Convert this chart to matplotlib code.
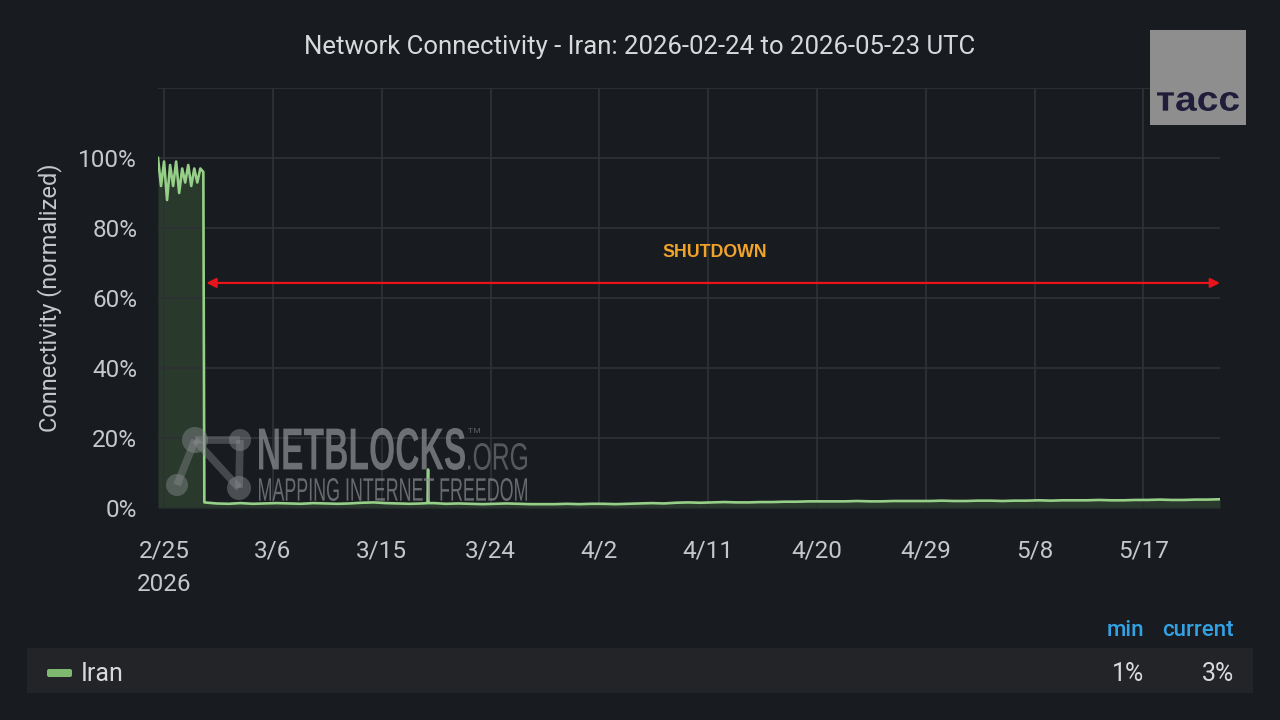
import numpy as np
import pandas as pd
import matplotlib
matplotlib.use("Agg")
import matplotlib.pyplot as plt
from matplotlib.patches import Rectangle, Circle, FancyBboxPatch, PathPatch
from matplotlib.textpath import TextPath
from matplotlib.font_manager import FontProperties
from matplotlib.transforms import Affine2D

plt.rcParams['font.family'] = ['Roboto', 'DejaVu Sans']

# --- data (connectivity, % of normal) ---
pre_start = '2026-02-24 12:00'
pre_vals = [100, 92, 99, 88, 98, 92, 99, 90, 97, 93, 98, 92, 97, 93, 97, 96]
post_start = '2026-02-28 08:00'
post_vals = [1.6, 1.3, 1.2, 1.4, 1.2, 1.3, 1.4,
             1.3, 1.2, 1.4, 1.3, 1.2, 1.3, 1.5,
             1.6, 1.4, 1.3, 1.2, 1.3, 1.4, 1.2,
             1.3, 1.2, 1.1, 1.2, 1.3, 1.2, 1.1,
             1.1, 1.1, 1.2, 1.1, 1.2, 1.2, 1.1,
             1.2, 1.3, 1.4, 1.3, 1.5, 1.6, 1.5,
             1.6, 1.7, 1.6, 1.6, 1.7, 1.7, 1.8,
             1.8, 1.9, 1.9, 1.9, 1.9, 2.0, 1.9,
             1.9, 2.0, 2.0, 2.0, 2.0, 2.1, 2.0,
             2.0, 2.1, 2.1, 2.0, 2.1, 2.1, 2.2,
             2.1, 2.2, 2.2, 2.2, 2.3, 2.2, 2.2,
             2.3, 2.3, 2.4, 2.3, 2.3, 2.4, 2.4,
             2.5]
spike_times = ['2026-03-18 19:00', '2026-03-18 20:00', '2026-03-18 21:00']
spike_vals = [1.4, 11, 1.4]

country = 'Iran'
stat_min = '1%'
stat_current = '3%'
title = 'Network Connectivity - Iran: 2026-02-24 to 2026-05-23 UTC'

pre = pd.Series(pre_vals, index=pd.date_range(pre_start, periods=len(pre_vals), freq='6h'))
post = pd.Series(post_vals, index=pd.date_range(post_start, periods=len(post_vals), freq='D'))
spike = pd.Series(spike_vals, index=pd.to_datetime(spike_times))
s = pd.concat([pre, post, spike]).sort_index() / 100.0

BG = '#181b1f'
GRID = '#2e3135'
TXT = '#c4c8cc'
GREEN = '#96cf87'

fig = plt.figure(figsize=(12.8, 7.2), dpi=100, facecolor=BG)
ax = fig.add_axes([158/1280, 1 - 508/720, (1220-158)/1280, (508-88)/720])
ax.set_facecolor(BG)

ax.fill_between(s.index, s.values, 0, color='#73bf69', alpha=0.19, lw=0)
ax.plot(s.index, s.values, color=GREEN, lw=1.9)

ax.set_xlim(pd.Timestamp('2026-02-24 12:00'), pd.Timestamp('2026-05-23 08:00'))
ax.set_ylim(0, 1.2)
yt = np.arange(0, 1.21, 0.2)
ax.set_yticks(yt)
ax.set_yticklabels([f'{int(round(v*100))}%' if v < 1.1 else '' for v in yt])
xt = pd.date_range('2026-02-25', periods=10, freq='9D')
ax.set_xticks(xt)
ax.set_xticklabels([f'{d.month}/{d.day}' + ('\n2026' if i == 0 else '') for i, d in enumerate(xt)],
                   linespacing=1.55)
ax.tick_params(colors=TXT, labelsize=17.5, length=0)
ax.tick_params(axis='x', pad=23)
ax.tick_params(axis='y', pad=15)
ax.grid(True, color=GRID, lw=1.3)
for sp in ax.spines.values():
    sp.set_visible(False)
ax.set_ylabel('Connectivity (normalized)', color=TXT, fontsize=17, labelpad=12)

# shutdown annotation
ax.annotate('', xy=(pd.Timestamp('2026-02-28 12:00'), 0.643),
            xytext=(pd.Timestamp('2026-05-23 08:00'), 0.643),
            arrowprops=dict(arrowstyle='<|-|>', color='#e8141c', lw=1.6,
                            mutation_scale=14, shrinkA=0, shrinkB=0))
ax.text(pd.Timestamp('2026-04-11 14:00'), 0.731, 'SHUTDOWN', color='#f0a32a',
        fontsize=12.8, fontweight='bold', family=['Liberation Sans', 'DejaVu Sans'],
        ha='center', va='center')

fig.text(640/1280, 1 - 47/720, title, color='#d8d9da', fontsize=18.5, ha='center', va='center')

# overlay in pixel space for watermark, logo and legend
ov = fig.add_axes([0, 0, 1, 1], facecolor='none')
ov.set_xlim(0, 1280)
ov.set_ylim(720, 0)
ov.axis('off')


def box_text(s, x0, x1, ytop, ybot, color, weight='normal', alpha=1.0,
             family='Liberation Sans'):
    # text squeezed into a pixel box (condensed look)
    tp = TextPath((0, 0), s, size=10, prop=FontProperties(family=family, weight=weight))
    ext = tp.get_extents()
    tr = (Affine2D().translate(-ext.x0, -ext.y0)
          .scale((x1 - x0) / ext.width, -(ybot - ytop) / ext.height)
          .translate(x0, ybot))
    ov.add_patch(PathPatch(tr.transform_path(tp), color=color, lw=0, alpha=alpha))


wm = '#8a8d90'
nodes = [(195, 440, 13), (240, 440, 11), (177, 485, 11), (239, 488, 12)]
for a, b in [(0, 1), (0, 2), (0, 3), (1, 3)]:
    ov.plot([nodes[a][0], nodes[b][0]], [nodes[a][1], nodes[b][1]], color=wm, lw=5.5, alpha=0.4,
            solid_capstyle='butt')
for x, y, r in nodes:
    ov.add_patch(Circle((x, y), r, color=wm, alpha=0.45, lw=0))
box_text('NETBLOCKS', 259, 465, 428, 470, wm, weight='bold', alpha=0.75)
box_text('TM', 468, 480, 428, 433, wm, alpha=0.6)
box_text('.ORG', 468, 527, 443, 470, wm, alpha=0.55)
box_text('MAPPING INTERNET FREEDOM', 259, 527, 478, 501, wm, alpha=0.7)

# TASS logo
ov.add_patch(Rectangle((1150, 30), 96, 95, color='#8e8e8e', lw=0))
box_text('тасс', 1157, 1239, 92, 111, '#1f1d3a', weight='bold')

# legend table
ov.add_patch(Rectangle((27, 648), 1226, 45, color='#222428', lw=0))
ov.add_patch(FancyBboxPatch((47, 669), 25, 8, boxstyle='round,pad=0,rounding_size=2',
                            color='#7fb86f', lw=0))
ov.text(81, 674, country, color='#d8d9da', fontsize=18, va='center', ha='left')
ov.text(1144, 674, stat_min, color='#d8d9da', fontsize=18, va='center', ha='right')
ov.text(1234, 674, stat_current, color='#d8d9da', fontsize=18, va='center', ha='right')
ov.text(1144, 630, 'min', color='#33a2e5', fontsize=16, fontweight='medium', va='center', ha='right')
ov.text(1234, 630, 'current', color='#33a2e5', fontsize=16, fontweight='medium', va='center', ha='right')

fig.savefig('out.png', dpi=100, facecolor=BG)
